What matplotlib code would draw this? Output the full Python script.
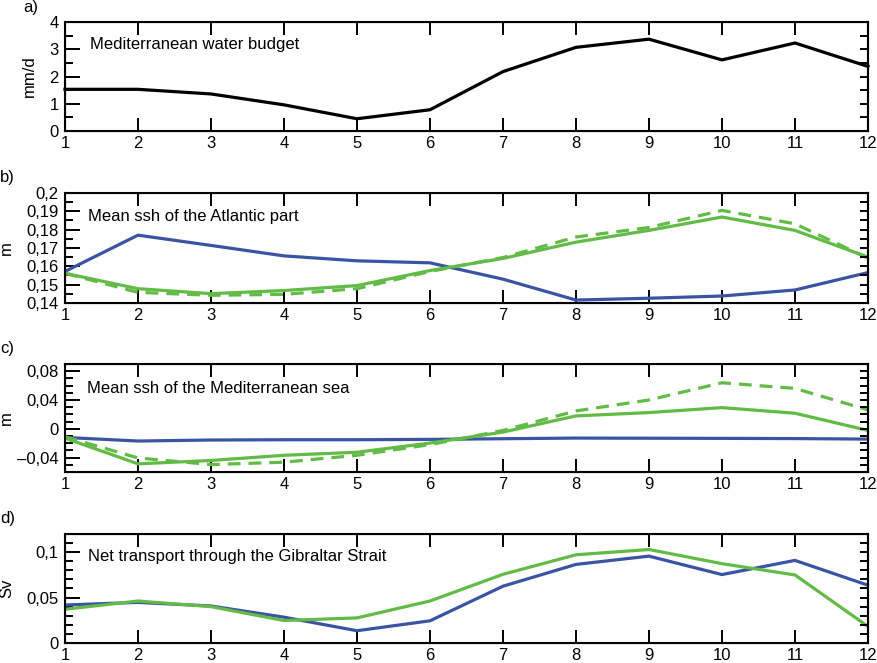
import matplotlib
matplotlib.use('Agg')
import matplotlib.pyplot as plt
from matplotlib.ticker import MultipleLocator, FuncFormatter

plt.rcParams['font.family'] = ['Liberation Sans', 'DejaVu Sans']

months = [1, 2, 3, 4, 5, 6, 7, 8, 9, 10, 11, 12]

# a) Mediterranean water budget (mm/d)
budget = [1.53, 1.53, 1.36, 0.96, 0.45, 0.78, 2.18, 3.07, 3.37, 2.61, 3.23, 2.37]

# b) Mean ssh of the Atlantic part (m)
atl_blue = [0.1572, 0.1770, 0.1714, 0.1657, 0.1630, 0.1619, 0.1530, 0.1416, 0.1426, 0.1438, 0.1471, 0.1566]
atl_green = [0.1562, 0.1478, 0.1451, 0.1468, 0.1495, 0.1577, 0.1643, 0.1732, 0.1796, 0.1869, 0.1796, 0.1650]
atl_green_dash = [0.1562, 0.1458, 0.1442, 0.1447, 0.1478, 0.1572, 0.1648, 0.1760, 0.1812, 0.1905, 0.1832, 0.1645]

# c) Mean ssh of the Mediterranean sea (m)
med_blue = [-0.012, -0.017, -0.0156, -0.0152, -0.0152, -0.0147, -0.0138, -0.0129, -0.0131, -0.0133, -0.0136, -0.0143]
med_green = [-0.013, -0.0487, -0.044, -0.0368, -0.0326, -0.0198, -0.0046, 0.0179, 0.0225, 0.0294, 0.0216, -0.0023]
med_green_dash = [-0.011, -0.0405, -0.0497, -0.0464, -0.0368, -0.022, -0.0023, 0.0248, 0.040, 0.0639, 0.0561, 0.0262]

# d) Net transport through the Gibraltar Strait (Sv)
gib_blue = [0.0418, 0.0447, 0.0407, 0.0284, 0.0135, 0.0244, 0.0625, 0.0865, 0.0956, 0.0753, 0.0909, 0.0636]
gib_green = [0.0371, 0.0462, 0.0400, 0.0247, 0.0276, 0.0462, 0.0756, 0.0971, 0.1029, 0.0873, 0.0749, 0.0182]

blue = '#3b53a3'
green = '#62bb46'
lw = 2.3
fs = 12


def comma(v, pos):
    s = '%g' % round(v, 6)
    return s.replace('.', ',').replace('-', '\u2013')


fig = plt.figure(figsize=(8.77, 6.63), dpi=100)
left, width = 0.0741, 0.9156
boxes = [(0.8024, 0.1644), (0.5430, 0.1659), (0.2881, 0.1629), (0.0302, 0.1644)]

panels = [
    dict(tag='a)', title='Mediterranean water budget', ylab='mm/d', ylim=(0, 4),
         major=1, minor=0.5, tx=0.031, ty=0.79, tagx=23, lab_x=-0.035),
    dict(tag='b)', title='Mean ssh of the Atlantic part', ylab='m', ylim=(0.14, 0.2),
         major=0.01, minor=0.005, tx=0.029, ty=0.79, tagx=0, lab_x=-0.0635),
    dict(tag='c)', title='Mean ssh of the Mediterranean sea', ylab='m', ylim=(-0.06, 0.09),
         major=0.04, minor=0.01, tx=0.027, ty=0.77, tagx=0, lab_x=-0.0635),
    dict(tag='d)', title='Net transport through the Gibraltar Strait', ylab='Sv', ylim=(0, 0.12),
         major=0.05, minor=0.01, tx=0.029, ty=0.79, tagx=0, lab_x=-0.0635),
]

axes = []
for (b, h), p in zip(boxes, panels):
    ax = fig.add_axes([left, b, width, h])
    ax.set_xlim(1, 12)
    ax.set_ylim(*p['ylim'])
    ax.set_xticks(months)
    ax.yaxis.set_major_locator(MultipleLocator(p['major']))
    ax.yaxis.set_minor_locator(MultipleLocator(p['minor']))
    ax.yaxis.set_major_formatter(FuncFormatter(comma))
    ax.tick_params(axis='x', which='major', direction='in', top=True, bottom=True,
                   length=9.5, width=1.4, labelsize=fs, pad=3.5)
    ax.tick_params(axis='y', which='major', direction='in', left=True, right=False,
                   length=10.5, width=1.4, labelsize=fs, pad=4.5)
    ax.tick_params(axis='y', which='minor', direction='in', left=True, right=False,
                   length=5.5, width=1.4)
    ax.tick_params(axis='x', which='minor', bottom=False, top=False)
    for sp in ax.spines.values():
        sp.set_linewidth(1.5)
    # short ticks on the right side
    rt = ax.twinx()
    rt.set_ylim(*p['ylim'])
    rt.yaxis.set_major_locator(MultipleLocator(p['minor']))
    rt.tick_params(axis='y', direction='in', length=5.5, width=1.4, labelright=False)
    rt.spines['right'].set_linewidth(1.5)
    ax.set_ylabel(p['ylab'], fontsize=fs)
    ax.yaxis.set_label_coords(p['lab_x'], 0.5)
    ax.text(p['tx'], p['ty'], p['title'], transform=ax.transAxes, fontsize=fs,
            va='center', ha='left')
    top_px = (b + h) * 663
    fig.text(p['tagx'] / 877, (top_px + 15) / 663, p['tag'], fontsize=fs,
             ha='left', va='center')
    axes.append(ax)

ax1, ax2, ax3, ax4 = axes
ax1.plot(months, budget, color='black', lw=lw, clip_on=False, zorder=3)

ax2.plot(months, atl_blue, color=blue, lw=lw, zorder=3)
ax2.plot(months, atl_green_dash, color=green, lw=lw, dashes=(4, 2.5), zorder=3)
ax2.plot(months, atl_green, color=green, lw=lw, zorder=3)

ax3.plot(months, med_blue, color=blue, lw=lw, zorder=3)
ax3.plot(months, med_green_dash, color=green, lw=lw, dashes=(4, 2.5), zorder=3)
ax3.plot(months, med_green, color=green, lw=lw, zorder=3)

ax4.plot(months, gib_blue, color=blue, lw=lw, zorder=3)
ax4.plot(months, gib_green, color=green, lw=lw, zorder=3)

fig.savefig('out.png', dpi=100)
